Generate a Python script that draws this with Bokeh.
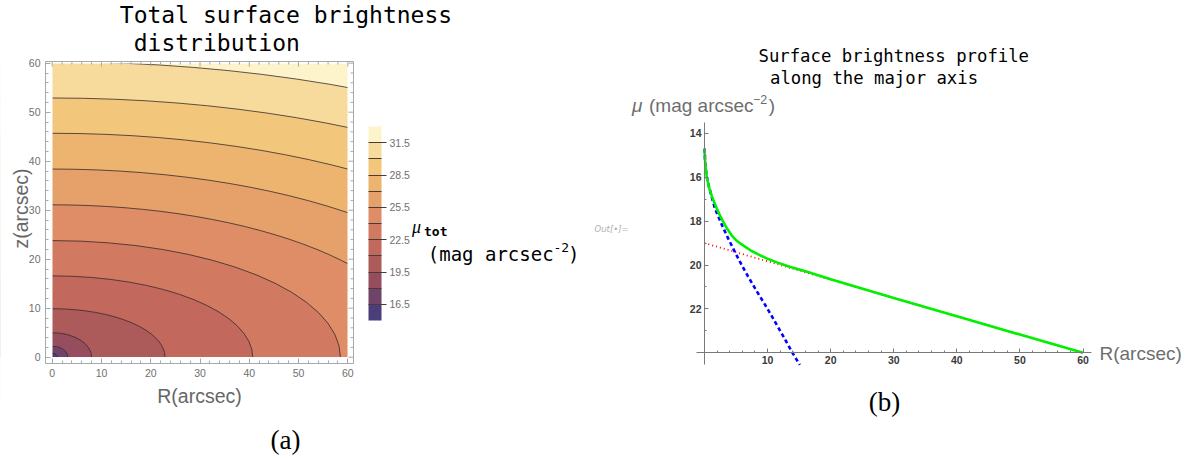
from bokeh.plotting import figure
from bokeh.models import Range1d, LinearAxis, FixedTicker, Label, ColorBar, LinearColorMapper
from bokeh.embed import file_html
from bokeh.resources import INLINE

# ---------------- data ----------------
# (a) contour levels of mu_tot and the semi-axes (arcsec) of their elliptical contours
levels = [16.5, 18.0, 19.5, 21.0, 22.5, 24.0, 25.5, 27.0, 28.5, 30.0, 31.5]
semi_R = [1.1, 3.2, 8.0, 22.9, 40.7, 58.5, 76.0, 93.7, 110.7, 129.7, 147.0]
semi_z = [0.8, 2.25, 5.0, 9.9, 16.6, 23.8, 31.1, 38.4, 45.7, 52.9, 60.3]
mu_low, mu_high = 15.0, 33.0
band_colors = ["#4b3e7b", "#704468", "#964e5f", "#ad5a5a", "#c2685c", "#d27962",
               "#de8d66", "#e6a16a", "#ecb46e", "#f2c77b", "#f7db9c", "#fdf4cc"]
cb_major = [16.5, 19.5, 22.5, 25.5, 28.5, 31.5]
cb_minor = [18.0, 21.0, 24.0, 27.0, 30.0]
R_max, z_max = 60.0, 60.0
ticks_a = [0, 10, 20, 30, 40, 50, 60]
minor_a = [2, 4, 6, 8, 12, 14, 16, 18, 22, 24, 26, 28, 32, 34, 36, 38, 42, 44, 46, 48, 52, 54, 56, 58]

# (b) surface-brightness profile along the major axis
R_bulge = [0, 0.05, 0.15, 0.37, 0.7, 1.1, 1.65, 2.2, 2.8, 3.8, 4.86, 5.8, 6.86, 8.3, 10.0, 12.0, 13.95, 15.1]
mu_bulge = [14.7, 15.05, 15.5, 16.0, 16.42, 16.85, 17.42, 17.8, 18.2, 18.82, 19.43, 19.95, 20.5, 21.2,
            22.0, 23.0, 24.0, 24.55]
R_disk = [0, 60]
mu_disk = [19.0, 24.0]
R_tot = [0, 0.05, 0.15, 0.37, 0.7, 1.2, 1.95, 2.5, 3.0, 3.6, 4.33, 5.2, 6.18, 7.4, 8.83, 10.1, 11.47,
         13.5, 16, 20, 30, 40, 50, 60]
mu_tot = [14.7, 15.05, 15.5, 16.0, 16.45, 16.9, 17.43, 17.77, 18.05, 18.35, 18.66, 18.92, 19.12, 19.35,
          19.56, 19.73, 19.88, 20.08, 20.28, 20.65, 21.5, 22.33, 23.17, 24.0]
xticks_b = [10, 20, 30, 40, 50, 60]
xminor_b = [2, 4, 6, 8, 12, 14, 16, 18, 22, 24, 26, 28, 32, 34, 36, 38, 42, 44, 46, 48, 52, 54, 56, 58]
yticks_b = [14, 16, 18, 20, 22]
yminor_b = [15, 17, 19, 21, 23]

MONO = "DejaVu Sans Mono"
SANS = "Liberation Sans"
SERIF = "Liberation Serif"

# ---------------- page geometry (pixels) ----------------
W, H = 1192, 459
# panel (a): pixel positions of R=0, R=60, z=0, z=60 and of its frame
A_R0, A_R60, A_Z0, A_Z60 = 51.7, 347.3, 356.7, 62.7
A_FL, A_FR, A_FT, A_FB = 45, 353, 61, 363
# panel (b): pixel positions of R=0, R=60, mu=14, mu=24 and of its axis ends
B_R0, B_R60, B_M14, B_M24 = 704, 1082.5, 132.8, 352.3
B_XL, B_XR, B_YT, B_YB = 696, 1090.7, 121.7, 364

ka = (A_R60 - A_R0) / R_max
la = (A_Z0 - A_Z60) / z_max
kb = (B_R60 - B_R0) / 60.0
lb = (B_M24 - B_M14) / 10.0

def ax_(X):
    return (X - A_R0) / ka

def ay_(Y):
    return (A_Z0 - Y) / la

def bx_(X):
    return (X - B_R0) / kb

def by_(Y):
    return 14 + (Y - B_M14) / lb

p = figure(width=W, height=H, x_range=Range1d(ax_(0), ax_(W)), y_range=Range1d(ay_(H), ay_(0)),
           x_axis_type=None, y_axis_type=None, output_backend="svg", toolbar_location=None,
           min_border=0)
p.extra_x_ranges = {"b": Range1d(bx_(0), bx_(W))}
p.extra_y_ranges = {"b": Range1d(by_(H), by_(0))}
p.title.visible = False
p.grid.visible = False
p.outline_line_color = None
p.background_fill_color = "white"
p.border_fill_color = "white"

# ----- panel (a): filled contour plot -----
p.quad(left=[0], right=[R_max], bottom=[0], top=[z_max], fill_color=band_colors[-1], line_color=None)
order = list(range(len(levels)))[::-1]          # largest contour first
p.ellipse(x=[0] * len(order), y=[0] * len(order),
          width=[2 * semi_R[i] for i in order], height=[2 * semi_z[i] for i in order],
          fill_color=[band_colors[i] for i in order], line_color="#3a2a2a", line_alpha=0.8,
          line_width=1)
# blank everything outside the data square (overlapping, reaching past the page;
# drawn three times so that no anti-aliased seam remains at the page edges)
xl, xr, yb_, yt = ax_(-30), ax_(W + 30), ay_(H + 30), ay_(-30)
for _ in range(3):
    p.quad(left=[xl, R_max, xl, xl], right=[0, xr, xr, xr],
           bottom=[yb_, yb_, yb_, z_max], top=[yt, yt, 0, yt],
           fill_color="white", line_color=None)

GRAY_A = "#a8a8a8"
# frame: top and right edges with inward ticks
fx0, fx1, fy0, fy1 = ax_(A_FL), ax_(A_FR), ay_(A_FB), ay_(A_FT)
p.segment(x0=[fx0, fx1], y0=[fy1, fy0], x1=[fx1, fx1], y1=[fy1, fy1], line_color=GRAY_A, line_width=1)
p.segment(x0=ticks_a, y0=[fy1] * len(ticks_a), x1=ticks_a, y1=[fy1 - 5 / la] * len(ticks_a),
          line_color=GRAY_A, line_width=1)
p.segment(x0=minor_a, y0=[fy1] * len(minor_a), x1=minor_a, y1=[fy1 - 3 / la] * len(minor_a),
          line_color=GRAY_A, line_width=1)
p.segment(x0=[fx1] * len(ticks_a), y0=ticks_a, x1=[fx1 - 5 / ka] * len(ticks_a), y1=ticks_a,
          line_color=GRAY_A, line_width=1)
p.segment(x0=[fx1] * len(minor_a), y0=minor_a, x1=[fx1 - 3 / ka] * len(minor_a), y1=minor_a,
          line_color=GRAY_A, line_width=1)

def style_axis(ax, color, tin=5, mtin=3):
    ax.axis_line_color = color
    ax.major_tick_line_color = color
    ax.minor_tick_line_color = color
    ax.major_tick_in = tin
    ax.major_tick_out = 0
    ax.minor_tick_in = mtin
    ax.minor_tick_out = 0
    ax.major_label_text_font = SANS
    ax.major_label_text_font_size = "10.5px"

for side, loc, bnds in (("left", fx0, (fy0, fy1)), ("below", fy0, (fx0, fx1))):
    a = LinearAxis(ticker=FixedTicker(ticks=ticks_a, minor_ticks=minor_a), fixed_location=loc, bounds=bnds)
    style_axis(a, GRAY_A)
    a.major_label_text_color = "#707070"
    a.major_label_standoff = 5
    p.add_layout(a, side)

cb = ColorBar(color_mapper=LinearColorMapper(palette=band_colors, low=mu_low, high=mu_high),
              ticker=FixedTicker(ticks=cb_major, minor_ticks=cb_minor),
              width=13, height=194, padding=0, location=(368, H - 320),
              major_tick_in=13, major_tick_out=5, minor_tick_in=13, minor_tick_out=0,
              major_tick_line_color="#4a3a3a", minor_tick_line_color="#4a3a3a",
              major_label_text_font=SANS, major_label_text_font_size="10.5px",
              major_label_text_color="#707070", label_standoff=3,
              bar_line_color=None, border_line_color=None, background_fill_color=None)
p.add_layout(cb, "center")

# ----- panel (b): profile -----
p.line(R_disk, mu_disk, line_color="#ff0000", line_width=1.8, line_dash="1 3",
       x_range_name="b", y_range_name="b")
p.line(R_bulge, mu_bulge, line_color="#0000ff", line_width=2.6, line_dash="4 3",
       x_range_name="b", y_range_name="b")
p.line(R_tot, mu_tot, line_color="#00f000", line_width=2.6, x_range_name="b", y_range_name="b")

xb = LinearAxis(x_range_name="b", y_range_name="b", fixed_location=24,
                bounds=(bx_(B_XL), bx_(B_XR)), ticker=FixedTicker(ticks=xticks_b, minor_ticks=xminor_b))
yb = LinearAxis(x_range_name="b", y_range_name="b", fixed_location=0,
                bounds=(by_(B_YT), by_(B_YB)), ticker=FixedTicker(ticks=yticks_b, minor_ticks=yminor_b))
for a in (xb, yb):
    style_axis(a, "#7a7a7a", tin=4, mtin=2)
    a.major_label_text_font_style = "bold"
    a.major_label_text_color = "#3a3a3a"
    a.major_label_standoff = 3
p.add_layout(xb, "below")
p.add_layout(yb, "left")

# ----- texts -----
def add_label(X, Y, text, font, size, color="black", style="normal", align="left",
              baseline="alphabetic", angle=0):
    if baseline == "alphabetic":
        Y = Y - 0.3 * size          # compensate the renderer's baseline offset
    p.add_layout(Label(x=ax_(X), y=ay_(Y), text=text, text_font=font, text_font_size=f"{size}px",
                       text_color=color, text_font_style=style, text_align=align,
                       text_baseline=baseline, angle=angle, angle_units="deg"))

add_label(119.3, 21.5, "Total surface brightness", MONO, 23)
add_label(133.2, 49.5, "distribution", MONO, 23)
add_label(199, 401.5, "R(arcsec)", SANS, 19.5, "#666666", align="center")
add_label(20, 208, "z(arcsec)", SANS, 19.5, "#666666", align="center", baseline="middle", angle=90)
add_label(411.5, 232, "\u03bc", SERIF, 18, style="italic")
add_label(423.5, 235, "tot", MONO, 13, style="bold")
add_label(427.3, 259, "(mag arcsec", MONO, 19)
add_label(553.0, 251, "-2", MONO, 13)
add_label(567.5, 259, ")", MONO, 19)
add_label(285, 439, "(a)", SERIF, 27, align="center", baseline="middle")

add_label(594, 228, "Out[\u2022]=", "DejaVu Sans", 8.5, "#b0b0b0", style="italic", baseline="middle")
add_label(758, 61, "Surface brightness profile", MONO, 17.3)
add_label(769.5, 83, "along the major axis", MONO, 17.3)
add_label(631.5, 111, "\u03bc", SANS, 19, "#6e6e6e", style="italic")
add_label(648.5, 111, "(mag arcsec", SANS, 19, "#6e6e6e")
add_label(752.5, 103, "\u22122", SANS, 12.5, "#6e6e6e")
add_label(768.3, 111, ")", SANS, 19, "#6e6e6e")
add_label(1099, 353, "R(arcsec)", SANS, 19, "#6e6e6e", baseline="middle")
add_label(884, 401, "(b)", SERIF, 27, align="center", baseline="middle")

open("out.html", "w").write(file_html(p, INLINE))
